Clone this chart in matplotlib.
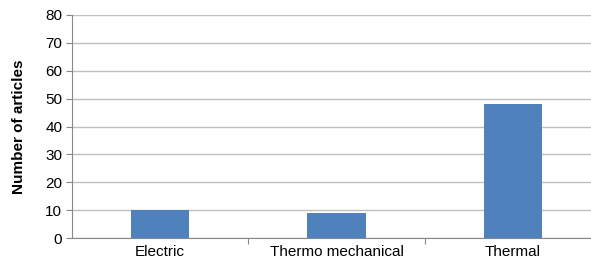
import matplotlib.pyplot as plt

plt.rcParams['font.family'] = ['Liberation Sans', 'DejaVu Sans']

categories = ["Electric", "Thermo mechanical", "Thermal"]
articles = [10, 9, 48]
y_ticks = [0, 10, 20, 30, 40, 50, 60, 70, 80]

fig = plt.figure(figsize=(5.91, 2.65), dpi=100)
ax = fig.add_axes([72 / 591, 1 - 238 / 265, 529 / 591, 223 / 265])

x = range(len(categories))
ax.bar(x, articles, width=0.33, color='#4F81BD', zorder=3)

ax.set_xlim(-0.5, len(categories) - 0.5)
ax.set_ylim(0, 80)
ax.set_yticks(y_ticks)
ax.yaxis.grid(True, color='#BFBFBF', linewidth=1.0, zorder=0)

# category boundaries as ticks, names as minor ticks
ax.set_xticks([0.5, 1.5])
ax.set_xticklabels([])
ax.set_xticks(list(x), minor=True)
ax.set_xticklabels(categories, minor=True)
ax.tick_params(axis='x', which='major', length=4, color='#888888', direction='out')
ax.tick_params(axis='x', which='minor', length=0, pad=5, labelsize=11)
ax.tick_params(axis='y', length=4, color='#888888', labelsize=11, pad=3)

for s in ['top', 'right']:
    ax.spines[s].set_visible(False)
for s in ['left', 'bottom']:
    ax.spines[s].set_color('#888888')

ax.set_ylabel("Number of articles", fontsize=11, fontweight='bold', labelpad=14)

fig.savefig("out.png", dpi=100)
